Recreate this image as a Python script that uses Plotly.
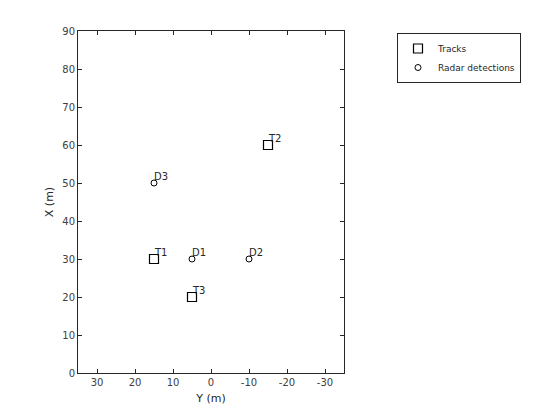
import plotly.graph_objects as go

track_y = [15, -15, 5]
track_x = [30, 60, 20]
track_labels = ["T1", "T2", "T3"]

det_y = [5, -10, 15]
det_x = [30, 30, 50]
det_labels = ["D1", "D2", "D3"]

x_ticks = [30, 20, 10, 0, -10, -20, -30]
x_tick_text = ["30", "20", "10", "0", "-10", "-20", "-30"]
y_ticks = [0, 10, 20, 30, 40, 50, 60, 70, 80, 90]

fig = go.Figure()
fig.add_trace(go.Scatter(
    x=track_y, y=track_x, mode="markers", name="Tracks",
    marker=dict(symbol="square-open", size=9, color="black", line=dict(width=1.2)),
))
fig.add_trace(go.Scatter(
    x=det_y, y=det_x, mode="markers", name="Radar detections",
    marker=dict(symbol="circle-open", size=6, color="black", line=dict(width=1)),
))

for xs, ys, labels in [(track_y, track_x, track_labels), (det_y, det_x, det_labels)]:
    for xv, yv, lab in zip(xs, ys, labels):
        fig.add_annotation(x=xv, y=yv, text=lab, showarrow=False, xanchor="left",
                           yanchor="bottom", xshift=-2, yshift=-1,
                           font=dict(family="DejaVu Sans", size=10, color="#262626"))

axis_common = dict(
    showgrid=False, zeroline=False, showline=True, linecolor="#262626", linewidth=1,
    mirror="ticks", ticks="inside", ticklen=4, tickcolor="#262626",
    tickfont=dict(family="DejaVu Sans", size=10, color="#404040"),
)
fig.update_xaxes(range=[35, -35], tickvals=x_ticks, ticktext=x_tick_text,
                 title=dict(text="Y (m)", standoff=7,
                            font=dict(family="DejaVu Sans", size=11, color="#262626")), **axis_common)
fig.update_yaxes(range=[0, 90], tickvals=y_ticks,
                 title=dict(text="X (m)", standoff=6,
                            font=dict(family="DejaVu Sans", size=11, color="#262626")), **axis_common)

L, R, T, B = 70, 224, 23, 55
fig.update_layout(
    width=560, height=420, plot_bgcolor="white", paper_bgcolor="white",
    margin=dict(l=L, r=R, t=T, b=B, autoexpand=False),
    font=dict(family="DejaVu Sans", size=10, color="#262626"),
    showlegend=True,
    legend=dict(x=(389 - L) / (560 - L - R), y=1 - (25 - T) / (420 - T - B),
                xanchor="left", yanchor="top",
                bordercolor="#262626", borderwidth=1, bgcolor="white",
                font=dict(size=9, color="#262626"), tracegroupgap=0,
                itemsizing="trace", itemwidth=30),
)
fig.write_html("out.html")
